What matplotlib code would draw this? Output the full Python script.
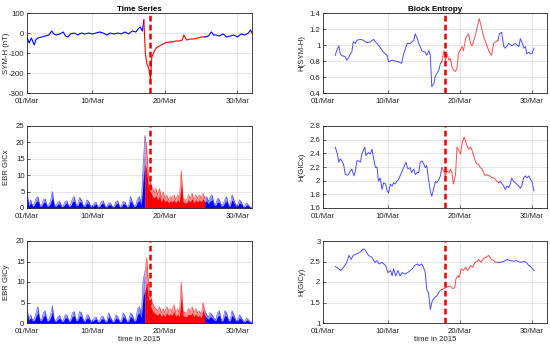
import numpy as np
import matplotlib
matplotlib.use("Agg")
import matplotlib.pyplot as plt

plt.rcParams['font.family'] = ['Liberation Sans', 'DejaVu Sans']

# ---------------- data (day 0 = 01/Mar 2015) ----------------
storm_day = 17.0          # dashed marker (18/Mar)
red_left = (16.1, 24.5)   # storm interval, time series panels
red_right = (16.4, 24.3)  # storm interval, entropy panels

symh_days = [0, 0.3, 0.6, 1.0, 1.2, 1.5, 2.0, 2.5, 3.0, 3.4, 3.7, 4.0, 4.5, 5.0, 5.3, 5.6, 6.0, 6.5,
             7.0, 7.5, 8.0, 8.5, 9.0, 9.5, 10.0, 10.5, 11.0, 11.5, 12.0, 12.5, 13.0, 13.5, 14.0, 14.5,
             15.0, 15.3, 15.6, 15.9, 16.1, 16.3, 16.5, 16.8, 17.0, 17.2, 17.5, 17.8, 18.0, 18.5, 19.0,
             19.5, 20.0, 20.5, 21.0, 21.4, 21.6, 22.0, 22.5, 23.0, 23.5, 24.0, 24.5, 25.0, 25.4, 25.7,
             26.0, 26.5, 27.0, 27.5, 28.0, 28.5, 29.0, 29.5, 30.0, 30.5, 30.8, 31.0]
symh_vals = [-20, -50, -25, -60, -35, -25, -20, -15, -10, 10, -5, -10, -5, 5, -15, -20, -5, 0,
             -10, 0, -5, 0, -5, 0, 5, 0, -10, 0, -5, 0, -5, 5, -5, 10,
             5, 20, 30, 10, 65, -100, -150, -180, -230, -120, -95, -75, -70, -60, -50,
             -45, -45, -40, -40, -35, -10, -35, -30, -30, -25, -20, -20, -15, 5, -10,
             -10, -15, -5, -20, -15, -10, -20, -5, -10, 0, 15, 0]

ebr_days = list(np.arange(0, 31.01, 0.25))
gicx_vals = [5, 1.0, 2.5, 0.8,  1.2, 3.0, 3.5, 1.0,  0.8, 2.5, 2.8, 0.8,  1.0, 2.2, 5.0, 1.0,
             0.8, 1.8, 2.0, 0.6,  0.7, 2.0, 2.2, 0.7,  1.0, 2.8, 3.5, 1.0,  1.2, 3.2, 2.5, 0.8,
             0.8, 2.5, 2.0, 0.7,  0.5, 1.5, 1.8, 0.5,  0.6, 2.0, 2.2, 0.6,  0.5, 1.6, 1.5, 0.5,
             0.5, 2.0, 2.2, 0.5,  0.6, 2.0, 1.8, 0.5,  0.6, 3.5, 2.0, 0.6,  1.0, 3.0, 3.5, 1.2,
             13, 22, 18, 9,  8, 6, 5, 6,  4, 6, 3, 5,  3, 4, 2.5, 3.5,
             3, 4, 2.5, 4,  3, 11.5, 3, 2.5,  2.5, 4, 3, 4.5,  2.5, 4, 3, 4,
             3, 4.5, 3, 3.5,  2, 3.5, 4, 1.5,  1, 3, 2.5, 1,  1, 2.5, 3.5, 1,
             1, 4, 2.5, 1,  0.8, 2.5, 2, 0.7,  0.5, 1.5, 1, 0.3,  0.2]
gicy_vals = [3.5, 1.0, 2.0, 0.8,  1.0, 2.5, 4.0, 1.0,  0.8, 2.5, 3.0, 0.8,  0.8, 2.0, 4.2, 0.8,
             0.6, 1.5, 1.8, 0.6,  0.6, 2.0, 2.0, 0.6,  0.8, 2.5, 2.8, 0.8,  1.0, 2.8, 2.5, 0.8,
             0.6, 2.0, 1.8, 0.6,  0.5, 1.2, 1.5, 0.5,  0.5, 1.5, 1.6, 0.5,  0.5, 2.5, 1.5, 0.5,
             0.5, 2.0, 1.5, 0.5,  0.5, 2.5, 1.8, 0.5,  0.6, 2.5, 2.0, 0.6,  1.0, 3.5, 4.0, 2.0,
             10.5, 12.5, 16, 9,  7, 5, 4, 3.5,  3, 4, 2.5, 3.5,  2.5, 4, 3, 3.5,
             3, 4.5, 2.5, 3.5,  2.5, 10, 3, 2.5,  2.5, 3.5, 3, 4,  2.5, 3.5, 2.5, 3,
             2, 5, 3, 2,  1.5, 2.5, 2, 1.2,  0.8, 2.5, 3, 0.8,  0.8, 3, 2.5, 0.8,
             0.8, 3, 2, 0.8,  0.6, 2, 1.5, 0.6,  0.4, 1.2, 0.8, 0.3,  0.2]

hsym_days = [1.7, 1.9, 2.2, 2.4, 2.6, 3.1, 3.3, 3.6, 3.8, 4.0, 4.2, 4.5, 4.7, 5.2, 5.6, 6.1, 6.6,
             7.0, 7.5, 8.0, 8.4, 8.9, 9.1, 9.6, 10.0, 10.5, 10.9, 11.2, 11.7, 12.1, 12.6, 12.8,
             13.1, 13.3, 13.5, 13.7, 14.2, 14.4, 14.7, 14.9, 15.1, 15.4, 15.6, 16.1, 16.3, 16.5,
             16.8, 17.0, 17.2, 17.5, 17.7, 17.9, 18.1, 18.4, 18.6, 18.8, 19.3, 19.5, 19.8, 20.2,
             20.5, 20.7, 21.1, 21.4, 21.7, 22.0, 22.3, 22.5, 23.0, 23.4, 23.7, 24.0, 24.3, 24.5,
             24.8, 25.1, 25.3, 25.8, 26.2, 26.7, 27.2, 27.4, 27.6, 27.9, 28.1, 28.3, 28.6, 28.8,
             29.0, 29.3]
hsym_vals = [0.87, 0.93, 0.99, 0.89, 0.87, 0.85, 0.81, 0.85, 0.89, 0.91, 1.04, 1.02, 1.06, 1.07,
             1.06, 1.03, 1.04, 1.07, 1.02, 0.96, 0.91, 0.87, 0.79, 0.81, 0.80, 0.79, 0.77, 0.89,
             1.02, 1.02, 1.06, 1.14, 1.08, 1.02, 0.98, 0.93, 0.91, 0.87, 0.93, 0.87, 0.48, 0.52,
             0.61, 0.69, 0.77, 0.79, 0.93, 0.81, 0.89, 0.81, 0.83, 0.73, 0.69, 0.67, 0.71, 0.89,
             0.98, 0.93, 1.08, 1.14, 1.02, 0.99, 1.10, 1.22, 1.33, 1.22, 1.10, 1.06, 0.93, 0.87,
             1.02, 1.04, 1.06, 1.14, 1.16, 0.98, 0.96, 1.02, 0.99, 1.02, 0.98, 1.08, 1.04, 0.96,
             0.98, 0.89, 0.91, 0.89, 0.89, 0.96]

hgx_days = [1.7, 1.95, 2.2, 2.4, 2.6, 2.85, 3.1, 3.45, 3.8, 4.0, 4.3, 4.5, 4.7, 4.95, 5.2, 5.4,
            5.8, 5.95, 6.3, 6.55, 6.8, 7.0, 7.3, 7.5, 7.7, 7.95, 8.2, 8.4, 8.7, 8.9, 9.1, 9.35,
            9.6, 9.8, 10.0, 10.25, 10.5, 10.7, 11.0, 11.2, 11.5, 11.8, 12.1, 12.3, 12.6, 12.8,
            13.1, 13.3, 13.5, 13.75, 14.0, 14.2, 14.4, 14.65, 14.9, 15.1, 15.4, 15.6, 15.8, 16.1,
            16.3, 16.5, 16.75, 17.0, 17.2, 17.5, 17.7, 17.9, 18.1, 18.4, 18.6, 18.85, 19.1, 19.3,
            19.6, 20.0, 20.2, 20.5, 20.7, 20.9, 21.2, 21.4, 21.6, 21.85, 22.1, 22.3, 22.5, 22.75,
            23.0, 23.2, 23.5, 23.7, 23.9, 24.15, 24.4, 24.6, 24.9, 25.1, 25.3, 25.55, 25.8, 26.0,
            26.2, 26.45, 26.7, 26.9, 27.2, 27.4, 27.6, 27.85, 28.1, 28.3, 28.6, 28.8, 29.0, 29.3]
hgx_vals = [2.49, 2.41, 2.27, 2.32, 2.29, 2.24, 2.09, 2.08, 2.14, 2.17, 2.07, 2.14, 2.29, 2.29,
            2.27, 2.39, 2.49, 2.37, 2.41, 2.39, 2.46, 2.34, 2.19, 2.20, 1.99, 2.04, 1.87, 1.97,
            1.95, 1.85, 1.82, 1.95, 1.92, 1.97, 1.95, 1.99, 2.02, 2.07, 2.14, 2.19, 2.27, 2.17,
            2.19, 2.12, 2.17, 2.09, 2.12, 2.12, 2.27, 2.29, 2.24, 2.19, 2.22, 2.02, 1.85, 1.77,
            1.90, 1.99, 1.97, 2.02, 2.07, 2.19, 2.14, 2.07, 2.14, 2.12, 2.17, 2.12, 1.95, 2.09,
            2.49, 2.44, 2.39, 2.54, 2.64, 2.51, 2.46, 2.49, 2.44, 2.37, 2.27, 2.24, 2.24, 2.19,
            2.17, 2.12, 2.07, 2.09, 2.07, 2.07, 2.04, 2.04, 2.02, 1.99, 1.97, 1.99, 1.95, 1.92,
            1.87, 1.92, 1.90, 1.95, 2.04, 1.99, 1.97, 1.95, 1.92, 1.89, 1.92, 2.04, 2.07, 2.04,
            2.07, 2.02, 1.99, 1.85]

hgy_days = [1.7, 2.15, 2.5, 2.85, 3.3, 3.6, 3.9, 4.2, 4.7, 5.2, 5.6, 5.9, 6.3, 6.8, 7.2, 7.5,
            7.8, 8.2, 8.7, 9.0, 9.4, 9.6, 9.8, 10.1, 10.4, 10.7, 11.0, 11.4, 11.9, 12.4, 12.7,
            13.1, 13.4, 13.7, 13.95, 14.2, 14.4, 14.65, 14.9, 15.15, 15.5, 15.8, 16.2, 16.5,
            16.75, 17.1, 17.35, 17.7, 18.0, 18.3, 18.45, 18.7, 18.9, 19.2, 19.5, 19.8, 20.1, 20.5,
            20.8, 21.1, 21.4, 21.6, 21.95, 22.3, 22.6, 23.0, 23.35, 23.7, 24.0, 24.3, 24.6, 25.1,
            25.55, 26.0, 26.5, 26.9, 27.4, 27.9, 28.2, 28.6, 28.9, 29.3]
hgy_vals = [2.38, 2.33, 2.28, 2.36, 2.48, 2.65, 2.55, 2.65, 2.69, 2.73, 2.81, 2.77, 2.65, 2.60,
            2.48, 2.52, 2.44, 2.48, 2.40, 2.23, 2.28, 2.15, 2.32, 2.15, 2.28, 2.15, 2.23, 2.19,
            2.25, 2.32, 2.40, 2.44, 2.40, 2.44, 2.36, 2.23, 1.82, 1.74, 1.33, 1.53, 1.62, 1.66,
            1.78, 1.82, 1.84, 1.86, 1.89, 1.90, 1.84, 1.86, 2.07, 2.15, 2.11, 2.32, 2.28, 2.36,
            2.28, 2.40, 2.36, 2.48, 2.50, 2.55, 2.48, 2.58, 2.60, 2.65, 2.56, 2.52, 2.48, 2.48,
            2.48, 2.50, 2.55, 2.52, 2.51, 2.52, 2.48, 2.50, 2.48, 2.40, 2.36, 2.28]

xtick_days = [0, 9, 19, 29]
xtick_labels = ['01/Mar', '10/Mar', '20/Mar', '30/Mar']

# ---------------- drawing ----------------
BLUE = (0, 0, 1)
RED = (1, 0, 0)
AXC = (0.15, 0.15, 0.15)
FS = 5.6

fig = plt.figure(figsize=(5.5, 3.46), dpi=100)
W, H = 550.0, 346.0

def make_ax(l, t, r, b):
    return fig.add_axes([l / W, 1 - b / H, (r - l) / W, (b - t) / H])

rows = [(13, 93), (126, 208), (241, 323)]
left_axes = [make_ax(27, t, 252, b) for t, b in rows]
right_axes = [make_ax(323, t, 547, b) for t, b in rows]


def split(days, vals, rng):
    d = np.asarray(days, float)
    v = np.asarray(vals, float)
    a, b = rng
    i0 = np.searchsorted(d, a)
    i1 = np.searchsorted(d, b)
    seg1 = (d[:i0 + 1], v[:i0 + 1])
    seg2 = (d[i0:i1 + 1], v[i0:i1 + 1])
    seg3 = (d[i1:], v[i1:])
    return seg1, seg2, seg3


def style(ax, ylim, yticks, yticklabels, ylabel, xlim, ylab_x):
    ax.set_xlim(*xlim)
    ax.set_ylim(*ylim)
    ax.set_yticks(yticks)
    ax.set_yticklabels(yticklabels)
    ax.set_xticks(xtick_days)
    ax.set_xticklabels(xtick_labels)
    ax.grid(True, color=(0.88, 0.88, 0.88), linewidth=0.6)
    ax.set_axisbelow(True)
    ax.tick_params(direction='in', length=2.5, width=0.5, labelsize=FS, colors=AXC)
    ax.tick_params(axis='x', pad=3.5)
    ax.tick_params(axis='y', pad=1.8)
    for s in ax.spines.values():
        s.set_color(AXC)
        s.set_linewidth(0.6)
    ax.set_ylabel(ylabel, fontsize=FS, color=AXC)
    ax.yaxis.set_label_coords(ylab_x, 0.5)
    ax.axvline(storm_day, color=(0.9, 0, 0), lw=1.8, ls=(0, (2.3, 1.3)), zorder=5)


def draw_line(ax, days, vals, rng, lw, alpha):
    s1, s2, s3 = split(days, vals, rng)
    ax.plot(*s1, color=BLUE, lw=lw, alpha=alpha)
    ax.plot(*s2, color=RED, lw=lw, alpha=alpha)
    ax.plot(*s3, color=BLUE, lw=lw, alpha=alpha)


def draw_fill(ax, days, vals, rng):
    s1, s2, s3 = split(days, vals, rng)
    for (d, v), c in zip((s1, s2, s3), (BLUE, RED, BLUE)):
        ax.fill_between(d, 0, v, color=c, alpha=0.45, lw=0)
        ax.plot(d, v, color=c, lw=0.5, alpha=0.6)
        ax.fill_between(d, 0, 0.62 * v, color=c, alpha=1.0, lw=0)


# left column
LX = -0.075
RX = -0.08
draw_line(left_axes[0], symh_days, symh_vals, red_left, 0.8, 1.0)
style(left_axes[0], (-300, 100), [-300, -200, -100, 0, 100],
      ['-300', '-200', '-100', '0', '100'], 'SYM-H (nT)', (0, 31), LX)
left_axes[0].set_title('Time Series', fontsize=FS + 0.2, fontweight='bold', pad=1.5)

draw_fill(left_axes[1], ebr_days, gicx_vals, red_left)
style(left_axes[1], (0, 25), [0, 5, 10, 15, 20, 25],
      ['0', '5', '10', '15', '20', '25'], 'EBR GICx', (0, 31), LX)

draw_fill(left_axes[2], ebr_days, gicy_vals, red_left)
style(left_axes[2], (0, 20), [0, 5, 10, 15, 20],
      ['0', '5', '10', '15', '20'], 'EBR GICy', (0, 31), LX)
left_axes[2].set_xlabel('time in 2015', fontsize=FS, color=AXC, labelpad=1)

# right column
draw_line(right_axes[0], hsym_days, hsym_vals, red_right, 0.7, 0.7)
style(right_axes[0], (0.4, 1.4), [0.4, 0.6, 0.8, 1.0, 1.2, 1.4],
      ['0.4', '0.6', '0.8', '1', '1.2', '1.4'], 'H(SYM-H)', (0, 31.1), RX)
right_axes[0].set_title('Block Entropy', fontsize=FS + 0.2, fontweight='bold', pad=1.5)

draw_line(right_axes[1], hgx_days, hgx_vals, red_right, 0.7, 0.7)
style(right_axes[1], (1.6, 2.8), [1.6, 1.8, 2.0, 2.2, 2.4, 2.6, 2.8],
      ['1.6', '1.8', '2', '2.2', '2.4', '2.6', '2.8'], 'H(GICx)', (0, 31.1), RX)

draw_line(right_axes[2], hgy_days, hgy_vals, red_right, 0.7, 0.7)
style(right_axes[2], (1, 3), [1, 1.5, 2, 2.5, 3],
      ['1', '1.5', '2', '2.5', '3'], 'H(GICy)', (0, 31.1), RX)
right_axes[2].set_xlabel('time in 2015', fontsize=FS, color=AXC, labelpad=1)

fig.savefig('out.png', dpi=100)
